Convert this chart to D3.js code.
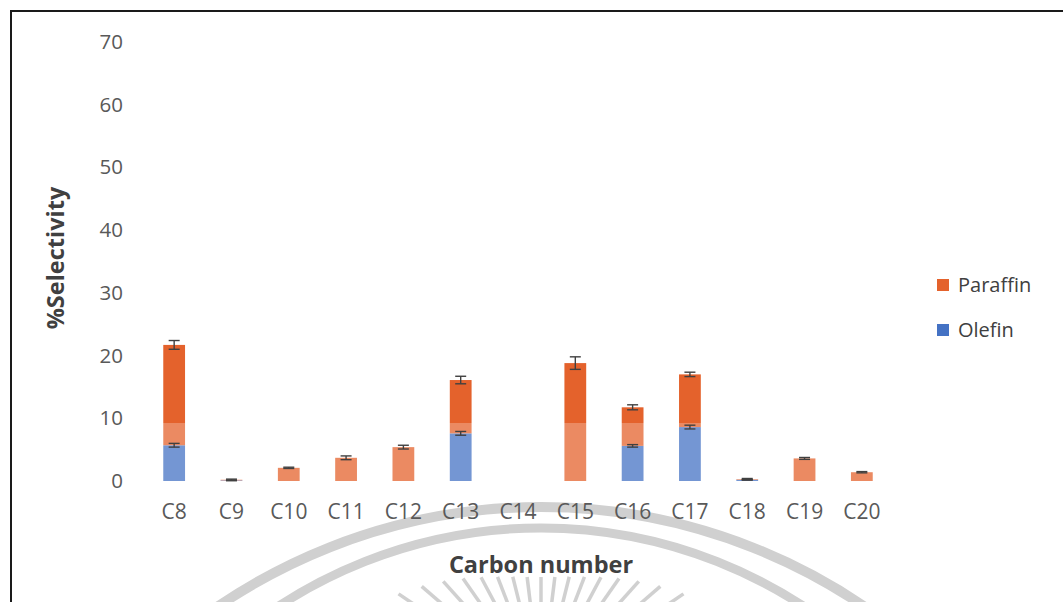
<!DOCTYPE html>
<html>
<head>
<meta charset="utf-8">
<script src="https://cdn.jsdelivr.net/npm/d3@7"></script>
<style>
  html, body { margin: 0; padding: 0; background: #ffffff; }
  svg { display: block; font-family: "Open Sans", "Liberation Sans", sans-serif; }
</style>
</head>
<body>
<svg id="chart" width="1063" height="602"></svg>
<script>
// Carbon-number distribution of products, stacked olefin + paraffin selectivity (%)
const categories = ["C8", "C9", "C10", "C11", "C12", "C13", "C14", "C15", "C16", "C17", "C18", "C19", "C20"];
const olefin     = [5.7, 0.1, 0,   0,   0,   7.6, 0, 0,    5.6,  8.6, 0.2, 0,   0];
const paraffin   = [16.0, 0.1, 2.1, 3.7, 5.4, 8.5, 0, 18.8, 6.15, 8.4, 0.1, 3.6, 1.4];
const olefinErr  = [0.3, 0.05, 0,  0,   0,   0.3, 0, 0,    0.2,  0.3, 0.05, 0,  0];
const paraffinErr= [0.7, 0.1, 0.1, 0.3, 0.3, 0.6, 0, 1.0,  0.4,  0.35, 0.1, 0.15, 0.1];
const yTicks = [0, 10, 20, 30, 40, 50, 60, 70];
const seriesNames = ["Paraffin", "Olefin"];

const colors = { Olefin: "#4472C4", Paraffin: "#E4622C" };

const svg = d3.select("#chart");
const W = 1063, H = 602;

// decorative seal arcs and rays behind the lower area
const deco = svg.append("g").attr("fill", "none").attr("stroke", "#d0d0d0");
deco.append("circle").attr("cx", 541).attr("cy", 1081).attr("r", 574).attr("stroke-width", 10);
deco.append("circle").attr("cx", 541).attr("cy", 1007).attr("r", 479).attr("stroke-width", 9);
const rayCenter = [541, 690];
d3.range(-56, 57, 7).forEach(a => {
  const t = a * Math.PI / 180;
  const d0 = 113 + 38 * Math.pow(a / 45, 2);
  const d1 = d0 - 80;
  deco.append("line")
    .attr("x1", rayCenter[0] + d0 * Math.sin(t)).attr("y1", rayCenter[1] - d0 * Math.cos(t))
    .attr("x2", rayCenter[0] + d1 * Math.sin(t)).attr("y2", rayCenter[1] - d1 * Math.cos(t))
    .attr("stroke-width", 3.5);
});

// outer frame (top and left edges)
svg.append("path")
  .attr("d", `M11,${H} L11,11 L${W},11`)
  .attr("fill", "none").attr("stroke", "#1a1a1a").attr("stroke-width", 2);

const x = d3.scaleBand().domain(categories).range([145.5, 890.5])
  .paddingInner(0.62).paddingOuter(0.31);
const y = d3.scaleLinear().domain([0, 70]).range([481, 42]);

// y axis labels only
const yAxis = svg.append("g").attr("transform", "translate(128,0)")
  .call(d3.axisLeft(y).tickValues(yTicks).tickSize(0).tickPadding(5));
yAxis.select(".domain").remove();
yAxis.selectAll("text").attr("fill", "#595959").style("font-size", "20.5px")
  .style("font-family", "'Open Sans', sans-serif");

// x axis labels only
const xAxis = svg.append("g").attr("transform", "translate(0,504)")
  .call(d3.axisBottom(x).tickSize(0).tickPadding(0));
xAxis.select(".domain").remove();
xAxis.selectAll("text").attr("fill", "#595959").style("font-size", "21px")
  .style("font-family", "'Open Sans', sans-serif");

// stacked bars
const rows = categories.map((c, i) => ({ cat: c, Olefin: olefin[i], Paraffin: paraffin[i] }));
const stack = d3.stack().keys(["Olefin", "Paraffin"])(rows);
const barG = svg.append("g");
stack.forEach(layer => {
  barG.selectAll(null).data(layer).enter().append("rect")
    .attr("x", d => x(d.data.cat))
    .attr("width", x.bandwidth())
    .attr("y", d => y(d[1]))
    .attr("height", d => Math.max(0, y(d[0]) - y(d[1])))
    .attr("fill", colors[layer.key]);
});

// lighter lower band over the bars
svg.append("rect")
  .attr("x", 140).attr("width", 760)
  .attr("y", y(9.25)).attr("height", y(0) - y(9.25) + 1)
  .attr("fill", "#ffffff").attr("opacity", 0.26);

// error bars at the top of each segment
const errG = svg.append("g").attr("stroke", "#404040").attr("stroke-width", 1.4);
function errorBars(tops, errs) {
  categories.forEach((c, i) => {
    if (errs[i] <= 0) return;
    const cx = x(c) + x.bandwidth() / 2;
    const v = tops[i];
    errG.append("line").attr("x1", cx).attr("x2", cx)
      .attr("y1", y(v + errs[i])).attr("y2", y(Math.max(0, v - errs[i])));
    [v + errs[i], Math.max(0, v - errs[i])].forEach(e => {
      errG.append("line").attr("x1", cx - 5.5).attr("x2", cx + 5.5)
        .attr("y1", y(e)).attr("y2", y(e));
    });
  });
}
errorBars(olefin, olefinErr);
errorBars(categories.map((c, i) => olefin[i] + paraffin[i]), paraffinErr);

// axis titles
svg.append("text")
  .attr("transform", "translate(64,258) rotate(-90)")
  .attr("text-anchor", "middle")
  .attr("fill", "#404040").style("font-size", "23.5px").style("font-weight", "bold")
  .text("%Selectivity");
svg.append("text")
  .attr("x", 541).attr("y", 573)
  .attr("text-anchor", "middle")
  .attr("fill", "#404040").style("font-size", "23.5px").style("font-weight", "bold")
  .text("Carbon number");

// legend
const legend = svg.append("g").attr("transform", "translate(937,0)");
seriesNames.forEach((name, i) => {
  const cy = 285 + i * 45;
  legend.append("rect").attr("x", 0).attr("y", cy - 6).attr("width", 12).attr("height", 12)
    .attr("fill", colors[name]);
  legend.append("text").attr("x", 21).attr("y", cy + 7)
    .attr("fill", "#404040").style("font-size", "20px")
    .text(name);
});
</script>
</body>
</html>
